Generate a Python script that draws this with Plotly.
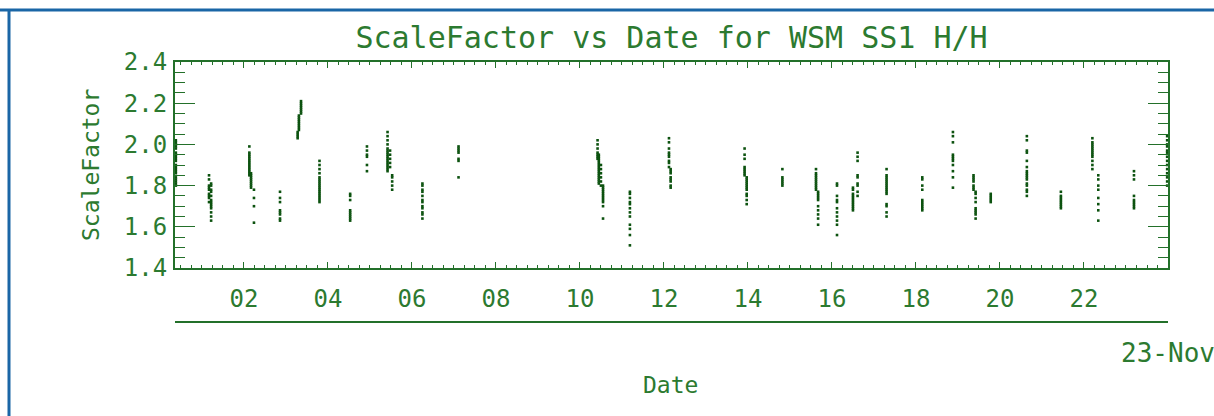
import plotly.graph_objects as go

# ---- data (hour of day on 23-Nov, scale factor) ----
cluster_hours = [
    0.38, 1.17, 1.22, 2.13, 2.17, 2.24, 2.86, 3.36, 3.31, 3.28,
    3.80, 4.53, 4.93, 5.42, 5.48, 5.53, 6.25, 7.11, 10.42, 10.45,
    10.50, 10.55, 11.19, 12.12, 12.16, 13.92, 13.97, 14.82, 15.62, 15.67,
    16.12, 16.61, 16.50, 17.30, 18.15, 18.88, 19.37, 19.42, 19.78, 20.64,
    21.45, 22.20, 22.34, 23.19, 23.98,
]
cluster_values = [
    [2.02, 2.01, 2.00, 1.99, 1.98, 1.96, 1.95, 1.94, 1.93, 1.92, 1.90, 1.89, 1.88, 1.87, 1.86, 1.84, 1.83, 1.82, 1.81, 1.80],
    [1.85, 1.83, 1.80, 1.79, 1.78, 1.76, 1.75, 1.74, 1.72],
    [1.81, 1.80, 1.78, 1.77, 1.75, 1.73, 1.72, 1.71, 1.70, 1.69, 1.67, 1.65, 1.63],
    [1.99, 1.96, 1.95, 1.94, 1.93, 1.92, 1.91, 1.90, 1.89, 1.88, 1.87, 1.86, 1.85],
    [1.86, 1.85, 1.84, 1.83, 1.82, 1.81, 1.80, 1.79],
    [1.78, 1.74, 1.70, 1.62],
    [1.77, 1.74, 1.72, 1.68, 1.67, 1.66, 1.64, 1.63],
    [2.21, 2.20, 2.19, 2.18, 2.17, 2.16, 2.15],
    [2.14, 2.13, 2.12, 2.11, 2.10, 2.09, 2.08, 2.07],
    [2.06, 2.05, 2.04, 2.03],
    [1.92, 1.90, 1.88, 1.86, 1.84, 1.83, 1.82, 1.81, 1.80, 1.79, 1.78, 1.77, 1.76, 1.75, 1.74, 1.73, 1.72],
    [1.76, 1.75, 1.73, 1.68, 1.67, 1.66, 1.65, 1.64, 1.63],
    [1.99, 1.97, 1.95, 1.94, 1.90, 1.87],
    [2.06, 2.04, 2.02, 2.00, 1.98, 1.97, 1.96, 1.95, 1.94, 1.93, 1.92, 1.91, 1.90, 1.89, 1.88, 1.87],
    [1.97, 1.95, 1.93, 1.91, 1.89],
    [1.85, 1.84, 1.82, 1.80, 1.78],
    [1.81, 1.80, 1.78, 1.77, 1.75, 1.73, 1.72, 1.70, 1.69, 1.67, 1.66, 1.64],
    [1.99, 1.98, 1.97, 1.96, 1.93, 1.92, 1.84],
    [2.02, 2.00, 1.98, 1.96, 1.95, 1.94, 1.93],
    [1.95, 1.94, 1.93, 1.92, 1.91, 1.90, 1.89, 1.88, 1.87, 1.86, 1.85, 1.84, 1.83, 1.82, 1.81],
    [1.90, 1.88, 1.86, 1.84, 1.82, 1.80],
    [1.80, 1.79, 1.78, 1.77, 1.76, 1.75, 1.74, 1.73, 1.72, 1.70, 1.64],
    [1.77, 1.76, 1.74, 1.72, 1.71, 1.69, 1.67, 1.65, 1.61, 1.59, 1.56, 1.51],
    [2.03, 2.01, 1.98, 1.96, 1.95, 1.94, 1.92, 1.91, 1.89],
    [1.88, 1.87, 1.86, 1.84, 1.83, 1.82, 1.80, 1.79],
    [1.98, 1.95, 1.93, 1.89, 1.88, 1.87, 1.86, 1.85],
    [1.84, 1.83, 1.82, 1.81, 1.80, 1.79, 1.78, 1.76, 1.75, 1.73, 1.71],
    [1.88, 1.84, 1.83, 1.82, 1.81, 1.80],
    [1.88, 1.86, 1.85, 1.84, 1.83, 1.82, 1.81, 1.80, 1.79, 1.78],
    [1.77, 1.76, 1.75, 1.74, 1.73, 1.70, 1.68, 1.66, 1.64, 1.61],
    [1.81, 1.80, 1.75, 1.73, 1.72, 1.69, 1.67, 1.65, 1.63, 1.61, 1.56],
    [1.96, 1.94, 1.92, 1.85, 1.84, 1.81, 1.80, 1.77, 1.75],
    [1.79, 1.78, 1.76, 1.75, 1.74, 1.73, 1.72, 1.71, 1.70, 1.69, 1.68],
    [1.88, 1.85, 1.84, 1.83, 1.82, 1.81, 1.80, 1.79, 1.78, 1.77, 1.76, 1.71, 1.70, 1.67, 1.65],
    [1.84, 1.83, 1.80, 1.78, 1.73, 1.72, 1.71, 1.70, 1.69, 1.68],
    [2.06, 2.04, 2.01, 1.95, 1.94, 1.93, 1.92, 1.90, 1.87, 1.84, 1.79],
    [1.85, 1.84, 1.83, 1.82, 1.80, 1.79, 1.78],
    [1.77, 1.76, 1.74, 1.72, 1.69, 1.68, 1.67, 1.66, 1.64],
    [1.76, 1.75, 1.74, 1.73, 1.72],
    [2.04, 2.02, 1.97, 1.96, 1.92, 1.89, 1.87, 1.86, 1.85, 1.84, 1.83, 1.81, 1.80, 1.78, 1.77, 1.75],
    [1.77, 1.75, 1.74, 1.73, 1.72, 1.71, 1.70, 1.69],
    [2.03, 2.01, 2.00, 1.99, 1.98, 1.97, 1.96, 1.95, 1.94, 1.92, 1.90, 1.88],
    [1.85, 1.83, 1.80, 1.78, 1.74, 1.71, 1.68, 1.63],
    [1.87, 1.85, 1.83, 1.75, 1.73, 1.72, 1.71, 1.70, 1.69],
    [2.04, 2.02, 2.00, 1.99, 1.97, 1.96, 1.94, 1.92, 1.90, 1.88, 1.86, 1.84, 1.82, 1.80],
]
hour_ticks = [2, 4, 6, 8, 10, 12, 14, 16, 18, 20, 22]
hour_labels = ["02", "04", "06", "08", "10", "12", "14", "16", "18", "20", "22"]
date_tick = [24]
date_label = ["23-Nov"]
title_text = "ScaleFactor vs Date for WSM SS1 H/H"
x_range = [0.36, 24.0]
y_range = [1.4, 2.4]

# ---- build point table ----
xs, ys = [], []
for h, vals in zip(cluster_hours, cluster_values):
    xs.extend([h] * len(vals))
    ys.extend(vals)

GREEN = "#23702a"
TEXT = "#2c7a30"
MARK = "#0c520f"
FONT = "DejaVu Sans Mono"
BLUE = "#1a66a6"

fig = go.Figure()
fig.add_trace(go.Scatter(
    x=xs, y=ys, mode="markers",
    marker=dict(symbol="square", size=2.6, color=MARK, line=dict(width=0)),
    hoverinfo="skip", showlegend=False,
))
# invisible traces to activate the helper axes
for xa, ya in [("x2", "y"), ("x3", "y"), ("x", "y2")]:
    fig.add_trace(go.Scatter(x=[None], y=[None], xaxis=xa, yaxis=ya,
                             mode="markers", showlegend=False, hoverinfo="skip"))

W, H = 1214, 416
L, R = 175, 1168
T, B_plot, B_paper = 62, 268, 322
paper_h = B_paper - T
ydom0 = (B_paper - B_plot) / paper_h

axis_common = dict(showgrid=False, zeroline=False, tickcolor=GREEN, tickwidth=1,
                   automargin=False, ticklabeloverflow="allow")

fig.update_layout(
    width=W, height=H, autosize=False,
    margin=dict(l=L, r=W - R, t=T, b=H - B_paper, pad=0, autoexpand=False),
    paper_bgcolor="white", plot_bgcolor="white",
    showlegend=False,
    title=dict(text=title_text, x=0.5, xref="paper", xanchor="center",
               y=1 - 37 / H, yref="container", yanchor="middle",
               automargin=False,
               font=dict(family=FONT, size=30, color=TEXT)),
    # main hour axis (major ticks, labels)
    xaxis=dict(
        range=x_range, tickmode="array", tickvals=hour_ticks, ticktext=hour_labels,
        ticks="inside", ticklen=6,
        showline=True, linecolor=GREEN, linewidth=2, mirror="ticks",
        anchor="y",
        tickfont=dict(family=FONT, size=24, color=TEXT),
        ticklabelstandoff=8, **axis_common,
    ),
    # date axis line below the hour labels
    xaxis2=dict(
        overlaying="x", anchor="free", position=0, side="bottom",
        range=x_range, tickmode="array", tickvals=date_tick, ticktext=date_label,
        ticks="inside", ticklen=6,
        showline=True, linecolor=GREEN, linewidth=2,
        tickfont=dict(family=FONT, size=26, color=TEXT),
        ticklabelstandoff=8, **axis_common,
    ),
    # minor ticks of hour axis (top and bottom)
    xaxis3=dict(
        overlaying="x", anchor="y", side="bottom",
        range=x_range, tick0=0, dtick=0.25,
        ticks="inside", ticklen=3, showticklabels=False,
        showline=False, mirror="ticks", **axis_common,
    ),
    yaxis=dict(
        domain=[ydom0, 1], range=y_range, tick0=1.4, dtick=0.2, tickformat=".1f",
        ticks="inside", ticklen=20,
        showline=True, linecolor=GREEN, linewidth=2, mirror="ticks",
        tickfont=dict(family=FONT, size=24, color=TEXT),
        ticklabelstandoff=1, **axis_common,
    ),
    # minor ticks of the value axis (left and right)
    yaxis2=dict(
        overlaying="y", anchor="x", side="left",
        range=y_range, tick0=1.4, dtick=0.05,
        ticks="inside", ticklen=10, showticklabels=False,
        showline=False, mirror="ticks", **axis_common,
    ),
    annotations=[
        dict(text="ScaleFactor", textangle=-90, xref="paper", yref="y domain",
             x=(91 - L) / (R - L), y=0.5, xanchor="center", yanchor="middle",
             showarrow=False, font=dict(family=FONT, size=23, color=TEXT)),
        dict(text="Date", xref="paper", yref="paper",
             x=(670 - L) / (R - L), y=(B_paper - 385) / paper_h,
             xanchor="center", yanchor="middle", showarrow=False,
             font=dict(family=FONT, size=23, color=TEXT)),
    ],
    shapes=[
        dict(type="line", xref="paper", yref="paper",
             x0=(0 - L) / (R - L), x1=(W - L) / (R - L),
             y0=(B_paper - 10) / paper_h, y1=(B_paper - 10) / paper_h,
             line=dict(color=BLUE, width=3)),
        dict(type="line", xref="paper", yref="paper",
             x0=(9 - L) / (R - L), x1=(9 - L) / (R - L),
             y0=(B_paper - 10) / paper_h, y1=(B_paper - H) / paper_h,
             line=dict(color=BLUE, width=3)),
    ],
)

fig.write_html("out.html",
               config={"displayModeBar": False, "responsive": False},
               post_script="document.body.style.margin='0';document.body.style.overflow='hidden';")
